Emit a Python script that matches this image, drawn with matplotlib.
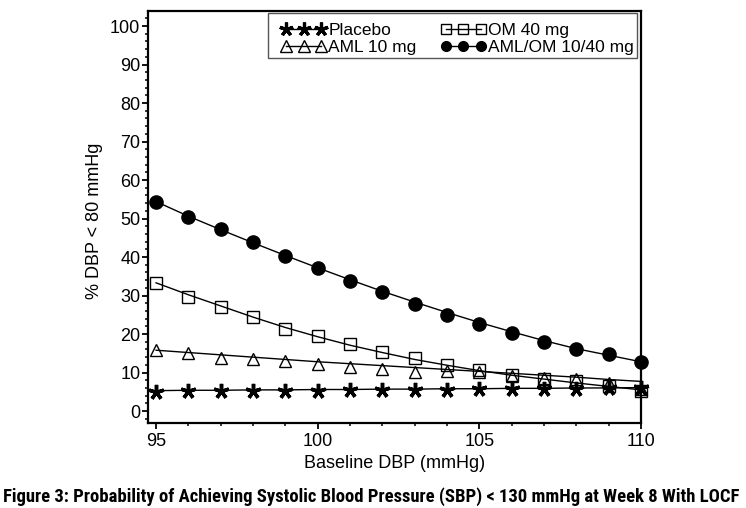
import matplotlib
matplotlib.use("Agg")
import matplotlib.pyplot as plt
from matplotlib.lines import Line2D
from matplotlib.patches import Rectangle
from matplotlib.ticker import MultipleLocator, FixedLocator
from matplotlib import font_manager

# ---------------- data ----------------
baseline_dbp = [95, 96, 97, 98, 99, 100, 101, 102, 103, 104, 105, 106, 107, 108, 109, 110]

# observed (markers)
placebo_obs = [5.0, 5.1, 5.1, 5.2, 5.3, 5.3, 5.4, 5.5, 5.5, 5.6, 5.7, 5.7, 5.8, 5.8, 5.9, 5.9]
aml10_obs = [15.8, 15.0, 13.8, 13.4, 13.0, 12.2, 11.4, 10.9, 10.2, 10.5, 10.1, 9.1, 8.5, 8.2, 7.2, 5.8]
om40_obs = [33.3, 29.7, 27.1, 24.5, 21.3, 19.5, 17.4, 15.3, 13.7, 11.9, 10.6, 9.4, 8.3, 7.9, 6.4, 5.3]
amlom_obs = [54.4, 50.5, 47.2, 43.8, 40.3, 37.2, 33.8, 31.0, 27.9, 25.0, 22.6, 20.3, 18.0, 16.0, 14.7, 12.8]

# fitted (lines)
placebo_fit = [5.3, 5.4, 5.4, 5.5, 5.5, 5.6, 5.6, 5.7, 5.7, 5.8, 5.8, 5.9, 5.9, 6.0, 6.0, 6.1]
aml10_fit = [15.8, 15.2, 14.6, 14.0, 13.4, 12.8, 12.3, 11.8, 11.3, 10.8, 10.3, 9.8, 9.3, 8.8, 8.2, 7.7]
om40_fit = [33.3, 30.2, 27.3, 24.4, 21.7, 19.3, 17.1, 15.2, 13.4, 11.9, 10.5, 9.3, 8.3, 7.3, 6.4, 5.5]
amlom_fit = [54.4, 50.6, 47.1, 43.7, 40.4, 37.2, 34.1, 31.1, 28.3, 25.6, 23.0, 20.6, 18.3, 16.2, 14.5, 12.8]

series_labels = ["Placebo", "AML 10 mg", "OM 40 mg", "AML/OM 10/40 mg"]
x_ticks = [95, 100, 105, 110]
y_ticks = [0, 10, 20, 30, 40, 50, 60, 70, 80, 90, 100]

x_label = "Baseline DBP (mmHg)"
y_label = "% DBP < 80 mmHg"
caption = ("Figure 3: Probability of Achieving Systolic Blood Pressure (SBP) < 130 mmHg "
           "at Week 8 With LOCF")

# ---------------- style ----------------
plt.rcParams["font.family"] = ["Liberation Sans", "DejaVu Sans"]

installed = {f.name for f in font_manager.fontManager.ttflist}
caption_fams = [f for f in ["Roboto Condensed", "Liberation Sans Narrow",
                            "Open Sans Condensed", "DejaVu Sans"] if f in installed]
if not caption_fams:
    caption_fams = ["DejaVu Sans"]

W, H = 746, 508
fig = plt.figure(figsize=(W / 100, H / 100), dpi=100)
L, R, T, B = 148, 641, 11, 423
ax = fig.add_axes([L / W, 1 - B / H, (R - L) / W, (B - T) / H])


def ax_x(px):
    return (px - L) / (R - L)


def ax_y(py):
    return (B - py) / (B - T)


styles = [
    dict(marker=(5, 2, 0), ms=11, mew=2.5, mfc="black", mec="black"),
    dict(marker="^", ms=9, mew=1.0, mfc="none", mec="black"),
    dict(marker="s", ms=8.5, mew=1.0, mfc="none", mec="black"),
    dict(marker="o", ms=9.5, mew=1.0, mfc="black", mec="black"),
]
legend_ms = [10, 8, 7, 7]
obs = [placebo_obs, aml10_obs, om40_obs, amlom_obs]
fits = [placebo_fit, aml10_fit, om40_fit, amlom_fit]

handles = []
for lab, o, f, st, lms in zip(series_labels, obs, fits, styles, legend_ms):
    ax.plot(baseline_dbp, f, color="black", lw=1.0, zorder=2, clip_on=False)
    ax.plot(baseline_dbp, o, linestyle="none", zorder=3, clip_on=False, **st)
    hst = dict(st)
    hst["ms"] = lms
    if hst["marker"] == (5, 2, 0):
        hst["mew"] = 2.3
    handles.append(Line2D([0], [0], color="black", lw=1.0, **hst))

ax.set_xlim(94.75, 110)
ax.set_ylim(-3.1, 103.9)
ax.xaxis.set_major_locator(FixedLocator(x_ticks))
ax.xaxis.set_minor_locator(MultipleLocator(1))
ax.yaxis.set_major_locator(FixedLocator(y_ticks))
ax.yaxis.set_minor_locator(MultipleLocator(2))

for s in ax.spines.values():
    s.set_linewidth(1.6)
ax.tick_params(which="major", direction="out", length=4.5, width=1.3, labelsize=13)
ax.tick_params(which="minor", direction="out", length=2.5, width=1.1)
ax.tick_params(axis="x", which="major", pad=2.5)
ax.tick_params(axis="y", which="major", pad=1.0)

ax.set_xlabel(x_label, fontsize=13, labelpad=4)
ax.set_ylabel(y_label, fontsize=13)
ax.yaxis.set_label_coords(-0.091, 0.49)

# legend frame (drawn separately) and legend content
frame = Rectangle((ax_x(268), ax_y(58)), ax_x(637) - ax_x(268), ax_y(13) - ax_y(58),
                  transform=ax.transAxes, facecolor="white", edgecolor="#555555",
                  linewidth=1.0, zorder=4)
ax.add_patch(frame)
leg = ax.legend(handles, series_labels, ncol=2, numpoints=3, loc="upper left",
                bbox_to_anchor=(ax_x(281), ax_y(22.5)),
                borderaxespad=0, fontsize=12.5, handlelength=2.6,
                handletextpad=0.12, columnspacing=1.4, labelspacing=0.14,
                borderpad=0, frameon=False)
leg.set_zorder(5)

cap = fig.text(3 / W, (H - 501.7) / H, caption, ha="left", va="baseline",
               fontsize=12, fontweight="bold", fontstretch="condensed",
               family=caption_fams)
fig.canvas.draw()
r = fig.canvas.get_renderer()
w = cap.get_window_extent(r).width
cap.set_fontsize(12 * 738 / w)

fig.savefig("out.png", dpi=100)
